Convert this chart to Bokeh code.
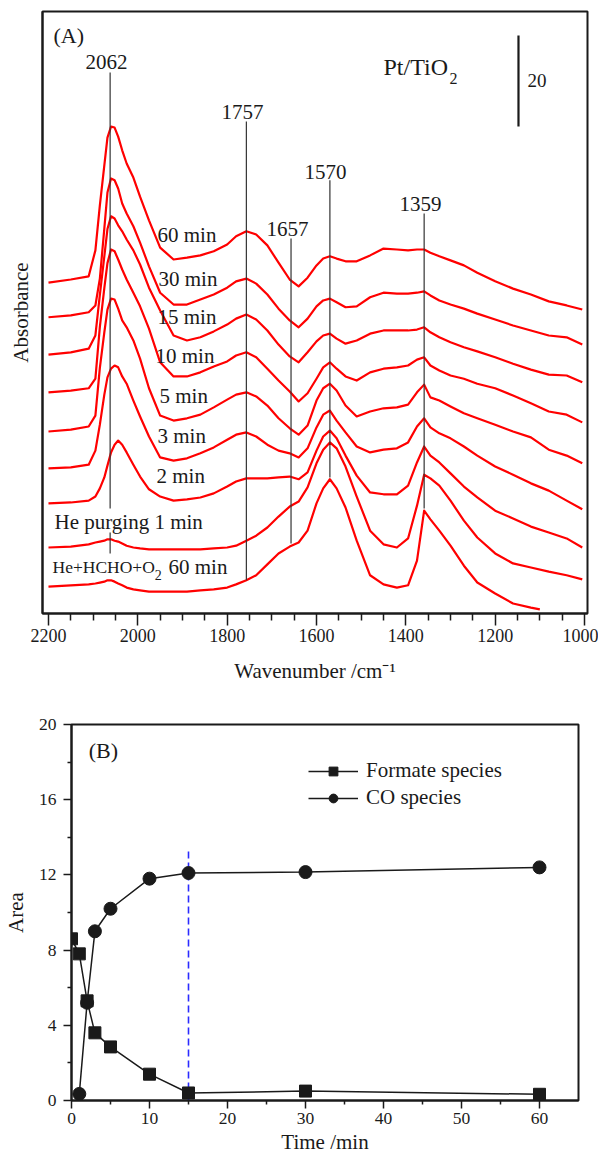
from bokeh.plotting import figure
from bokeh.models import Range1d, FixedTicker, Legend, LegendItem
from bokeh.core.properties import value
from bokeh.embed import file_html
from bokeh.resources import INLINE

FONT = "Liberation Serif"
INK = "#1a1a1a"
RED = "#ff0000"

# ---------------- Panel A data ----------------
wavenumber = [2200, 2150, 2110, 2095, 2085, 2075, 2068, 2060, 2052, 2044, 2035, 2025, 2010, 1995, 1975, 1950,
              1920, 1890, 1860, 1830, 1800, 1780, 1757, 1735, 1710, 1685, 1660, 1640, 1620, 1600, 1585, 1570,
              1555, 1535, 1510, 1480, 1450, 1420, 1395, 1375, 1359, 1345, 1325, 1300, 1270, 1240, 1200, 1160,
              1120, 1080, 1040, 1005]

abs_60min = [72.7, 73.4, 74.1, 79.8, 89.7, 98.5, 104.6, 107.0, 106.8, 104.8, 101.8, 98.9, 95.8, 91.6, 86.4, 80.4,
             77.8, 78.2, 78.7, 79.6, 81.1, 82.9, 84.0, 83.3, 80.9, 77.1, 73.4, 71.9, 73.8, 76.5, 78.0, 78.5,
             78.0, 77.4, 77.4, 78.7, 80.2, 80.0, 79.8, 80.0, 80.0, 79.3, 78.5, 77.6, 76.5, 74.9, 73.0, 71.4,
             70.1, 68.6, 67.7, 66.8]
abs_30min = [65.1, 65.5, 66.2, 67.7, 73.6, 84.6, 92.5, 95.6, 95.2, 93.4, 90.1, 87.9, 85.1, 81.5, 76.3, 70.5,
             67.9, 67.9, 69.0, 70.1, 71.6, 73.0, 73.6, 72.5, 70.1, 67.0, 64.4, 62.9, 64.8, 67.5, 68.8, 69.2,
             68.4, 67.3, 67.5, 69.5, 70.5, 70.3, 70.3, 70.5, 70.8, 69.9, 68.8, 67.9, 67.0, 65.9, 64.6, 63.3,
             62.2, 61.1, 60.7, 59.1]
abs_15min = [56.9, 57.4, 58.2, 61.1, 70.0, 78.5, 84.5, 87.3, 86.8, 85.3, 84.0, 82.2, 79.8, 76.7, 71.6, 66.6,
             61.1, 60.0, 60.7, 62.0, 63.5, 64.8, 65.7, 64.6, 62.2, 59.1, 56.5, 55.2, 57.4, 59.8, 61.1, 61.5,
             60.4, 59.3, 60.0, 61.5, 62.2, 62.2, 62.2, 62.4, 62.9, 61.8, 60.7, 59.6, 58.5, 57.6, 56.3, 54.9,
             53.6, 52.5, 52.3, 50.8]
abs_10min = [48.6, 49.0, 49.5, 51.6, 63.0, 71.5, 77.0, 80.0, 79.6, 77.8, 75.6, 73.4, 70.5, 67.5, 62.6, 55.2,
             52.1, 52.1, 53.0, 54.3, 55.4, 56.7, 57.4, 56.3, 53.8, 51.2, 48.8, 46.6, 48.4, 51.6, 54.1, 55.2,
             53.8, 52.1, 51.2, 53.0, 53.8, 54.1, 54.5, 55.8, 56.3, 54.5, 53.4, 52.3, 51.6, 50.5, 49.5, 47.9,
             46.2, 44.4, 43.7, 42.0]
abs_5min = [40.0, 40.4, 41.1, 43.5, 54.0, 61.8, 66.8, 69.2, 69.0, 67.0, 64.4, 62.9, 60.0, 56.0, 49.5, 43.5,
            42.4, 42.9, 43.7, 45.3, 47.0, 48.1, 48.6, 47.7, 45.7, 42.9, 40.7, 39.3, 41.3, 46.8, 49.5, 50.5,
            49.0, 45.7, 43.3, 44.4, 45.1, 45.3, 45.9, 48.6, 50.3, 47.5, 46.8, 45.5, 44.0, 42.9, 41.5, 40.0,
            38.7, 36.0, 34.7, 33.0]
abs_3min = [31.9, 32.1, 32.7, 35.8, 41.5, 48.1, 51.9, 53.8, 54.5, 54.1, 52.1, 50.5, 46.8, 43.3, 38.9, 34.3,
            33.6, 34.1, 35.2, 36.5, 38.2, 39.3, 39.8, 38.9, 37.1, 35.8, 35.2, 34.3, 36.3, 40.9, 43.7, 44.6,
            42.4, 39.8, 36.7, 35.4, 36.0, 36.3, 37.6, 41.1, 42.9, 40.9, 39.6, 38.5, 36.7, 34.7, 32.3, 30.5,
            28.6, 27.0, 24.8, 22.9]
abs_2min = [24.2, 24.4, 24.8, 25.7, 27.5, 29.9, 32.5, 35.4, 37.1, 38.0, 37.1, 35.4, 32.7, 30.1, 27.3, 25.7,
            24.8, 25.1, 25.5, 26.4, 27.9, 29.0, 29.7, 29.7, 29.7, 29.9, 30.1, 29.5, 31.0, 35.8, 38.9, 40.2,
            38.5, 34.7, 30.3, 26.6, 26.2, 26.2, 28.1, 33.2, 36.7, 34.7, 33.2, 30.8, 27.9, 25.5, 22.6, 20.9,
            19.1, 17.8, 16.5, 14.5]
abs_purge1 = [14.5, 14.7, 15.2, 15.6, 15.8, 16.0, 16.3, 16.3, 16.0, 15.8, 15.4, 14.9, 14.5, 14.3, 14.1, 14.1,
              14.1, 14.1, 14.1, 14.3, 14.5, 14.9, 16.0, 17.1, 18.9, 21.3, 23.5, 24.6, 27.7, 33.0, 36.0, 37.6,
              36.3, 32.3, 25.7, 18.2, 15.2, 14.5, 16.5, 23.7, 30.5, 29.7, 28.1, 24.8, 20.4, 16.7, 13.2, 11.0,
              10.1, 9.2, 8.4, 7.5]
wavenumber_feed = [2200, 2150, 2110, 2095, 2085, 2075, 2068, 2060, 2052, 2044, 2035, 2025, 2010, 1995, 1975, 1950,
                   1920, 1890, 1860, 1830, 1800, 1780, 1757, 1735, 1710, 1685, 1660, 1640, 1620, 1600, 1585, 1570,
                   1555, 1535, 1510, 1480, 1450, 1420, 1395, 1375, 1359, 1345, 1325, 1300, 1270, 1240, 1200, 1160,
                   1120, 1100]
abs_feed = [5.9, 6.2, 6.4, 6.6, 6.8, 7.0, 7.3, 7.3, 7.0, 6.6, 6.2, 5.7, 5.3, 5.1, 4.8, 4.8,
            4.8, 4.8, 5.1, 5.3, 5.7, 6.4, 7.3, 8.4, 10.8, 13.2, 14.7, 15.6, 18.2, 24.2, 27.5, 29.5,
            27.5, 23.3, 16.0, 8.4, 6.4, 5.7, 6.2, 11.6, 22.6, 20.7, 18.2, 14.9, 10.5, 6.8, 4.4, 2.2,
            1.3, 0.9]

curve_labels = ["60 min", "30 min", "15 min", "10 min", "5 min", "3 min", "2 min", "He purging 1 min"]
curve_label_x = [1956, 1953.7, 1956, 1960.4, 1951.5, 1956, 1958.2, 2186.6]
curve_label_y = [83.1, 73.6, 65.1, 56.5, 47.7, 38.9, 30.3, 20.2]

peak_names = ["2062", "1757", "1657", "1570", "1359"]
peak_label_x = [2070.2, 1765.7, 1664.9, 1579.9, 1367.2]
peak_label_y = [121.1, 110.3, 84.6, 97.1, 89.9]
marker_wn = [2062, 2062, 1757, 1657, 1570, 1359]
marker_top = [118.9, 17.8, 108.1, 82.4, 95.2, 87.9]
marker_bottom = [23.1, 13.2, 7.3, 15.4, 29.9, 23.1]

scale_bar_wn = [1147.8]
scale_bar_low = [107.0]
scale_bar_high = [127.0]

x_ticks_A = [2200, 2000, 1800, 1600, 1400, 1200, 1000]
x_minor_A = [2150, 2100, 2050, 1950, 1900, 1850, 1750, 1700, 1650, 1550, 1500, 1450,
             1350, 1300, 1250, 1150, 1100, 1050]

# ---------------- Panel B data ----------------
time_formate = [0, 1, 2, 3, 5, 10, 15, 30, 60]
area_formate = [8.6, 7.8, 5.3, 3.6, 2.85, 1.4, 0.4, 0.5, 0.33]
time_co = [1, 2, 3, 5, 10, 15, 30, 60]
area_co = [0.35, 5.2, 9.0, 10.2, 11.8, 12.1, 12.15, 12.4]
steady_time = [15]
steady_top = [13.3]
x_ticks_B = [0, 10, 20, 30, 40, 50, 60]
x_minor_B = [5, 15, 25, 35, 45, 55]
y_ticks_B = [0, 4, 8, 12, 16, 20]
y_minor_B = [2, 6, 10, 14, 18]


def style_axes(p, tick_size):
    for ax in list(p.xaxis) + list(p.yaxis):
        ax.axis_line_color = INK
        ax.axis_line_width = 2
        ax.major_tick_line_color = INK
        ax.minor_tick_line_color = INK
        ax.major_tick_line_width = 1.5
        ax.minor_tick_line_width = 1.5
        ax.major_tick_in = 0
        ax.minor_tick_in = 0
        ax.major_label_text_font = FONT
        ax.major_label_text_font_size = tick_size
        ax.major_label_text_color = INK
        ax.axis_label_text_font = FONT
        ax.axis_label_text_font_size = "21px"
        ax.axis_label_text_font_style = "normal"
        ax.axis_label_text_color = INK
    p.outline_line_color = INK
    p.outline_line_width = 2
    p.xgrid.visible = False
    p.ygrid.visible = False
    p.background_fill_color = "white"
    p.border_fill_color = "white"


# ---------------- Panel A ----------------
pA = figure(width=598, height=687, x_range=Range1d(2213.4, 993.3), y_range=Range1d(0, 132.3),
            output_backend="svg", toolbar_location=None,
            min_border_left=42, min_border_right=11, min_border_top=11, min_border_bottom=74)
style_axes(pA, "18px")
pA.xaxis.ticker = FixedTicker(ticks=x_ticks_A, minor_ticks=x_minor_A)
pA.xaxis.major_tick_out = 12
pA.xaxis.minor_tick_out = 7
pA.xaxis.major_label_standoff = 3
pA.xaxis.axis_label = "Wavenumber /cm\u207b\u00b9"
pA.xaxis.axis_label_standoff = 14
pA.yaxis.ticker = FixedTicker(ticks=[])
pA.yaxis.major_tick_out = 0
pA.yaxis.minor_tick_out = 0
pA.yaxis.axis_label = "Absorbance"
pA.yaxis.axis_label_standoff = 10

for ys in [abs_60min, abs_30min, abs_15min, abs_10min, abs_5min, abs_3min, abs_2min, abs_purge1]:
    pA.line(wavenumber, ys, line_color=RED, line_width=2.2, line_join="round")
pA.line(wavenumber_feed, abs_feed, line_color=RED, line_width=2.2, line_join="round")

pA.segment(x0=marker_wn, y0=marker_bottom, x1=marker_wn, y1=marker_top, line_color="#333333", line_width=1.2)
pA.segment(x0=scale_bar_wn, y0=scale_bar_low, x1=scale_bar_wn, y1=scale_bar_high, line_color=INK, line_width=2.2)

txt = dict(text_font=value(FONT), text_color=INK, text_baseline="middle")
pA.text(x=peak_label_x, y=peak_label_y, text=peak_names, text_align="center",
        text_font_size=value("21px"), **txt)
pA.text(x=curve_label_x, y=curve_label_y, text=curve_labels, text_align="left",
        text_font_size=value("21px"), **txt)
pA.text(x=[2191.0], y=[10.3], text=["He+HCHO+O"], text_align="left", text_font_size=value("17.5px"), **txt)
pA.text(x=[1962.0], y=[8.4], text=["2"], text_align="left", text_font_size=value("14px"), **txt)
pA.text(x=[1931.3], y=[10.3], text=["60 min"], text_align="left", text_font_size=value("21px"), **txt)
pA.text(x=[2188.8], y=[127.0], text=["(A)"], text_align="left", text_font_size=value("22px"), **txt)
pA.text(x=[1450.0], y=[120.0], text=["Pt/TiO"], text_align="left", text_font_size=value("24px"), **txt)
pA.text(x=[1302.0], y=[117.6], text=["2"], text_align="left", text_font_size=value("16px"), **txt)
pA.text(x=[1127.6], y=[117.1], text=["20"], text_align="left", text_font_size=value("19px"), **txt)

# ---------------- Panel B ----------------
pB = figure(width=598, height=470, x_range=Range1d(0, 65), y_range=Range1d(0, 20),
            output_backend="svg", toolbar_location=None,
            min_border_left=68, min_border_right=20, min_border_top=37, min_border_bottom=57)
style_axes(pB, "17.5px")
pB.xaxis.ticker = FixedTicker(ticks=x_ticks_B, minor_ticks=x_minor_B)
pB.yaxis.ticker = FixedTicker(ticks=y_ticks_B, minor_ticks=y_minor_B)
for ax in list(pB.xaxis) + list(pB.yaxis):
    ax.major_tick_out = 8
    ax.minor_tick_out = 4
pB.xaxis.major_label_standoff = 4
pB.xaxis.axis_label = "Time /min"
pB.xaxis.axis_label_standoff = 3
pB.yaxis.major_label_standoff = 7
pB.yaxis.axis_label = "Area"
pB.yaxis.axis_label_standoff = 8

pB.segment(x0=steady_time, y0=[0], x1=steady_time, y1=steady_top, line_color="#2b2bff",
           line_width=1.6, line_dash="7 4")
f_line = pB.line(time_formate, area_formate, line_color=INK, line_width=1.5)
f_pts = pB.scatter(time_formate, area_formate, marker="square", size=12, fill_color=INK, line_color=INK)
c_line = pB.line(time_co, area_co, line_color=INK, line_width=1.5)
c_pts = pB.scatter(time_co, area_co, marker="circle", size=13, fill_color=INK, line_color=INK)

pB.text(x=[2.2], y=[18.6], text=["(B)"], text_align="left", text_font_size=value("22px"), **txt)

legend = Legend(items=[LegendItem(label="Formate species", renderers=[f_line, f_pts]),
                       LegendItem(label="CO species", renderers=[c_line, c_pts])],
                location=(237, 290), border_line_color=None, background_fill_alpha=0,
                padding=0, margin=0, spacing=2, glyph_width=50, glyph_height=22, label_height=22,
                label_standoff=8, label_text_font=FONT, label_text_font_size="21px",
                label_text_color=INK)
pB.add_layout(legend)

open("out.html", "w").write(file_html([pA, pB], INLINE))
